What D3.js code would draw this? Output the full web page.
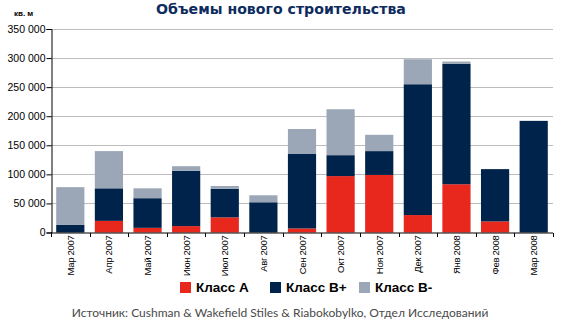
<!DOCTYPE html>
<html><head><meta charset="utf-8">
<script src="https://cdn.jsdelivr.net/npm/d3@7"></script>
<style>body{margin:0;background:#fff}svg{display:block}</style>
</head><body>
<svg id="c" width="564" height="326"></svg>
<script>
const categories = ["Мар 2007","Апр 2007","Май 2007","Июн 2007","Июл 2007","Авг 2007","Сен 2007","Окт 2007","Ноя 2007","Дек 2007","Янв 2008","Фев 2008","Мар 2008"];
const classA     = [0, 20000, 8000, 11000, 26000, 0, 7000, 97000, 99000, 30000, 83000, 19000, 0];
const classBplus = [13000, 56000, 51000, 95000, 49000, 52000, 128000, 36000, 41000, 225000, 207000, 90000, 192000];
const classBminus= [65000, 64000, 17000, 8000, 5000, 12000, 43000, 79000, 28000, 43000, 4000, 0, 0];
const seriesNames = ["Класс A","Класс B+","Класс B-"];
const colors = ["#e8271d","#00234b","#9ba7b6"];
const yTicks = [0,50000,100000,150000,200000,250000,300000,350000];

const svg = d3.select("#c");
const m = {l:51, r:553, t:29, b:232.5};
const x = d3.scaleBand().domain(categories).range([m.l, m.r]).paddingInner(0.27).paddingOuter(0.135);
const y = d3.scaleLinear().domain([0,350000]).range([m.b, m.t]);

const rows = categories.map((c,i)=>({cat:c, a:classA[i], bp:classBplus[i], bm:classBminus[i]}));
const stack = d3.stack().keys(["a","bp","bm"])(rows);

// gridlines
svg.append("g").selectAll("line").data(yTicks.slice(1)).join("line")
  .attr("x1", m.l).attr("x2", m.r).attr("y1", d=>Math.round(y(d))+0.5).attr("y2", d=>Math.round(y(d))+0.5)
  .attr("stroke","#bcbcbc").attr("stroke-width",1);

// bars
svg.append("g").selectAll("g").data(stack).join("g").attr("fill",(d,i)=>colors[i])
  .selectAll("rect").data(d=>d).join("rect")
  .attr("x", d=>x(d.data.cat)).attr("width", x.bandwidth())
  .attr("y", d=>y(d[1])).attr("height", d=>Math.max(0, y(d[0])-y(d[1])));

// y axis
const ya = svg.append("g").attr("transform",`translate(${m.l+0.5},0)`)
  .call(d3.axisLeft(y).tickValues(yTicks).tickSize(5).tickPadding(1)
    .tickFormat(d=>d3.format(",")(d).replace(/,/g," ")));
ya.select(".domain").attr("stroke","#000");
ya.selectAll(".tick line").attr("stroke","#000");
ya.selectAll("text").attr("font-family","Liberation Sans, Arial, sans-serif").attr("font-size","10.5px").attr("fill","#000");

// x axis
const xa = svg.append("g").attr("transform",`translate(0,${m.b+0.5})`);
xa.append("line").attr("x1", m.l).attr("x2", m.r).attr("stroke","#000");
const bounds = d3.range(categories.length+1).map(i=> m.l + i*(m.r-m.l)/categories.length);
xa.selectAll("line.t").data(bounds).join("line").attr("class","t")
  .attr("x1",d=>Math.round(d)+0.5).attr("x2",d=>Math.round(d)+0.5).attr("y1",0).attr("y2",4).attr("stroke","#000");
xa.selectAll("text").data(categories).join("text")
  .attr("transform", d=>`translate(${x(d)+x.bandwidth()/2+3.5},${2.5}) rotate(-90)`)
  .attr("text-anchor","end")
  .attr("font-family","'Liberation Sans', Arial, sans-serif").attr("font-size","9.5px").attr("fill","#000")
  .attr("letter-spacing","-0.3px")
  .text(d=>d);

// title
const title = svg.append("text").attr("x",281).attr("y",14).attr("text-anchor","middle")
  .attr("font-family","'DejaVu Sans', sans-serif").attr("font-weight","bold").attr("font-size","13px")
  .attr("fill","#0d2b5e").text("Объемы нового строительства");
const tw = title.node().getComputedTextLength();
if (tw > 0) title.attr("font-size", (13*250/tw).toFixed(2)+"px");

svg.append("text").attr("x",14).attr("y",16)
  .attr("font-family","Liberation Sans, Arial, sans-serif").attr("font-weight","bold").attr("font-size","8px")
  .attr("fill","#000").text("кв. м");

// legend
const legX = [180, 270, 359];
const lg = svg.append("g");
seriesNames.forEach((n,i)=>{
  lg.append("rect").attr("x",legX[i]).attr("y",282).attr("width",11).attr("height",11).attr("fill",colors[i]);
  lg.append("text").attr("x",legX[i]+16).attr("y",292)
    .attr("font-family","Liberation Sans, Arial, sans-serif").attr("font-weight","bold").attr("font-size","13.5px")
    .attr("fill","#000").text(n);
});

// source
svg.append("text").attr("x",280).attr("y",316.5).attr("text-anchor","middle")
  .attr("font-family","Lato, 'Open Sans', sans-serif").attr("font-size","12px").attr("fill","#4a4a4a")
  .text("Источник: Cushman & Wakefield Stiles & Riabokobylko, Отдел Исследований");
</script>
</body></html>
